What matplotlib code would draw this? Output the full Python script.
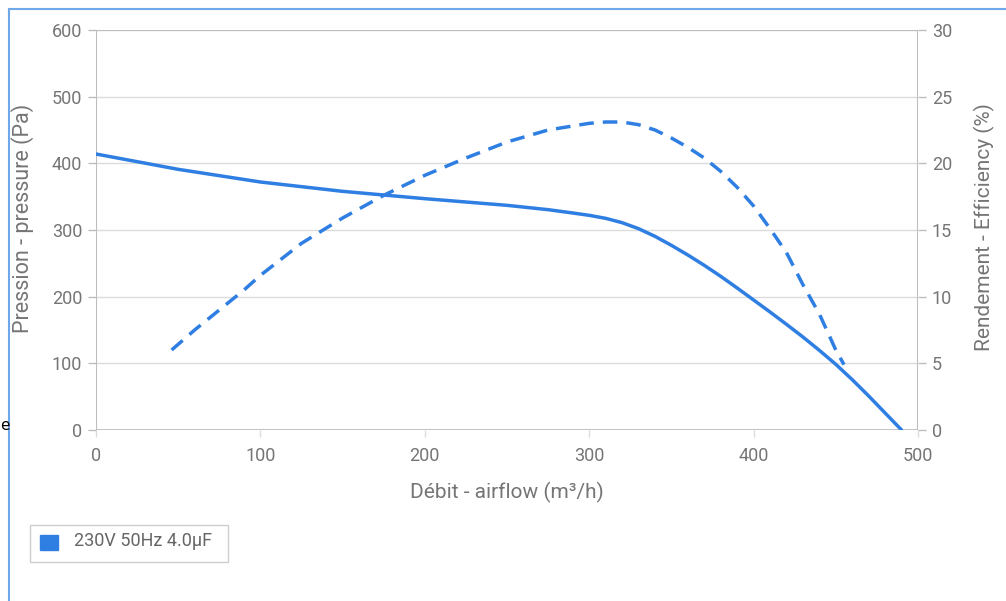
import matplotlib
matplotlib.use("Agg")
import matplotlib.pyplot as plt
from matplotlib.patches import Rectangle
from matplotlib.lines import Line2D

# ---- data ----
airflow_p = [0, 50, 100, 150, 200, 250, 275, 290, 300, 310, 320, 330, 340, 350, 360, 370,
             380, 390, 400, 410, 420, 430, 440, 450, 460, 470, 480, 490]
pressure = [414, 391, 372, 358, 347, 337, 330.5, 325.5, 322, 317.5, 311, 302, 290.5, 277,
            262.5, 247, 230.5, 213, 195, 177, 158.5, 139.5, 119.5, 98.5, 75.5, 51, 25.5, 0]

airflow_e = [46, 60, 75, 90, 100, 125, 150, 175, 200, 225, 250, 275, 300, 310, 320, 330,
             340, 350, 360, 370, 380, 390, 400, 410, 420, 430, 440, 450, 455]
efficiency = [6.0, 7.5, 9.0, 10.5, 11.6, 14.0, 15.9, 17.6, 19.1, 20.4, 21.6, 22.5, 23.0,
              23.1, 23.1, 22.9, 22.5, 21.9, 21.2, 20.4, 19.4, 18.2, 16.8, 15.1, 13.3,
              10.9, 8.7, 6.0, 4.9]

x_ticks = [0, 100, 200, 300, 400, 500]
left_ticks = [0, 100, 200, 300, 400, 500, 600]
right_ticks = [0, 5, 10, 15, 20, 25, 30]
series_label = "230V 50Hz 4.0µF"

FONT = ['Roboto', 'DejaVu Sans']
plt.rcParams['font.family'] = FONT
BLUE = '#2f7fe3'
TXT = '#757575'
AX = '#bdbdbd'
GRID = '#dcdcdc'

W, H = 1006, 601
fig = plt.figure(figsize=(W / 100, H / 100), dpi=100)

def fx(px):
    return px / W

def fy(py):
    return 1 - py / H

L, R, T, B = 96, 918, 30, 430
ax = fig.add_axes([fx(L), fy(B), fx(R) - fx(L), fy(T) - fy(B)])
ax.set_xlim(0, 500)
ax.set_ylim(0, 600)
ax2 = ax.twinx()
ax2.set_ylim(0, 30)

for a in (ax, ax2):
    for s in a.spines.values():
        s.set_visible(False)

ax.set_xticks(x_ticks)
ax.set_yticks(left_ticks)
ax2.set_yticks(right_ticks)
ax.set_xticklabels([str(v) for v in x_ticks])
ax.set_yticklabels([str(v) for v in left_ticks])
ax2.set_yticklabels([str(v) for v in right_ticks])

ax.tick_params(axis='y', length=6, width=1, color=AX, labelcolor=TXT, labelsize=13, pad=4)
ax.tick_params(axis='x', length=5, width=1, color=GRID, labelcolor=TXT, labelsize=13, pad=7)
ax2.tick_params(axis='y', length=6, width=1, color=AX, labelcolor=TXT, labelsize=13, pad=4)

ax.grid(axis='y', color=GRID, linewidth=1)
ax.set_axisbelow(True)

# axis lines
ax.axvline(0, color=AX, linewidth=1.5, zorder=1)
ax.axvline(500, color=AX, linewidth=1.5, zorder=1)
ax.axhline(0, color=AX, linewidth=2, zorder=1)
ax.axhline(600, color=AX, linewidth=1.5, zorder=1)

ax.plot(airflow_p, pressure, color=BLUE, linewidth=2.5, solid_capstyle='round',
        solid_joinstyle='round', zorder=3)
ax2.plot(airflow_e, efficiency, color=BLUE, linewidth=2.5, linestyle=(0, (4.2, 2.6)),
         dash_joinstyle='round', zorder=3)

# axis titles
fig.text(fx(507), fy(492), "Débit - airflow (m³/h)", color=TXT, fontsize=15,
         ha='center', va='center')
fig.text(fx(23), fy(218), "Pression - pressure (Pa)", color=TXT, fontsize=15.5,
         ha='center', va='center', rotation=90)
fig.text(fx(984), fy(227), "Rendement - Efficiency (%)", color=TXT, fontsize=15,
         ha='center', va='center', rotation=90)

# legend box
fig.patches.append(Rectangle((fx(30), fy(562)), fx(228) - fx(30), fy(525) - fy(562),
                             transform=fig.transFigure, facecolor='white',
                             edgecolor='#cfcfcf', linewidth=1))
fig.patches.append(Rectangle((fx(40), fy(550)), fx(18), fy(535) - fy(550),
                             transform=fig.transFigure, facecolor=BLUE, edgecolor=BLUE))
fig.text(fx(74), fy(541), series_label, color='#666666', fontsize=13, va='center', ha='left')

# outer frame lines (left and top)
fig.add_artist(Line2D([fx(9), fx(9)], [0, fy(9)], color='#6fa8ea', linewidth=1.5))
fig.add_artist(Line2D([fx(9), 1], [fy(9), fy(9)], color='#6fa8ea', linewidth=1.5))
fig.text(0, fy(425), "e", color='black', fontsize=11, va='center', ha='left', family='DejaVu Sans')

fig.savefig("out.png", dpi=100)
